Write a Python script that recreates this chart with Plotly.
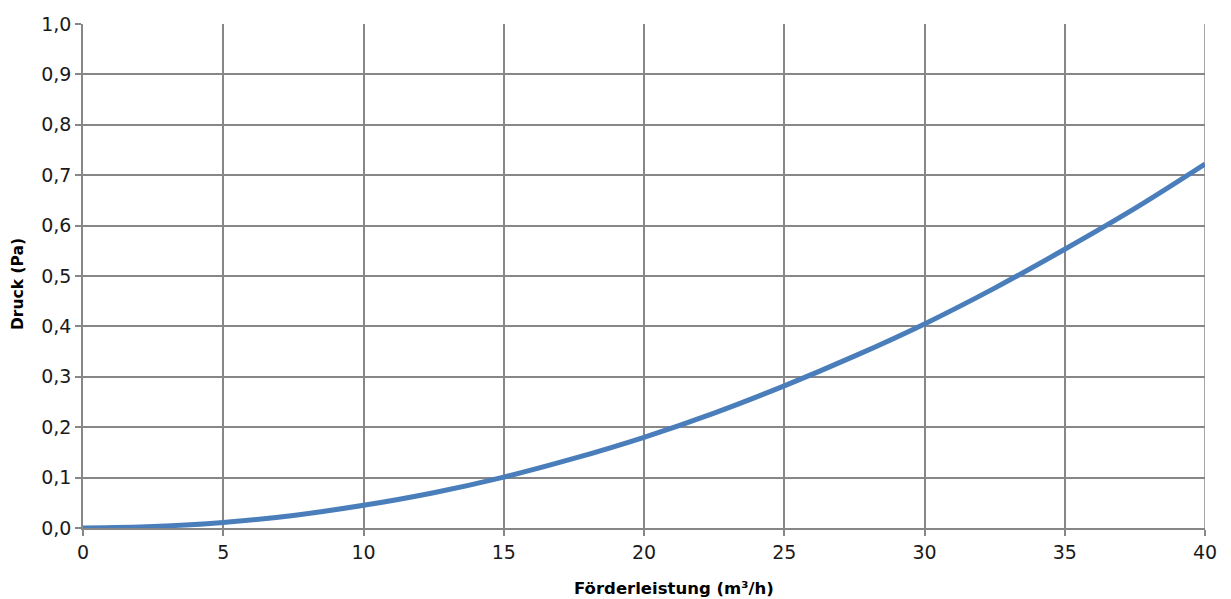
import plotly.graph_objects as go

x_vals = [0, 2.5, 5, 7.5, 10, 12.5, 15, 17.5, 20, 22.5, 25, 27.5, 30, 32.5, 35, 37.5, 40]
druck = [0.0, 0.003, 0.011, 0.025, 0.045, 0.070, 0.101, 0.138, 0.180, 0.228, 0.282, 0.341, 0.405, 0.476, 0.553, 0.634, 0.722]

y_ticks = [0, 0.1, 0.2, 0.3, 0.4, 0.5, 0.6, 0.7, 0.8, 0.9, 1.0]
y_labels = ["0,0", "0,1", "0,2", "0,3", "0,4", "0,5", "0,6", "0,7", "0,8", "0,9", "1,0"]
x_ticks = [0, 5, 10, 15, 20, 25, 30, 35, 40]

# The page body has an 8px margin, so the figure is drawn 8px in from the top-left corner.
OFF = 8
fig = go.Figure()
fig.add_trace(go.Scatter(
    x=x_vals, y=druck, mode="lines",
    line=dict(color="#4a7ebb", width=5, shape="spline"),
    hoverinfo="skip", showlegend=False))

grid = "#878787"
plot_l, plot_r, plot_t, plot_b = 83, 1205, 24, 528
fig.update_layout(
    width=1231 - OFF, height=599 - OFF,
    margin=dict(l=plot_l - OFF, r=1231 - plot_r, t=plot_t - OFF, b=599 - plot_b),
    paper_bgcolor="white", plot_bgcolor="white",
    font=dict(family="DejaVu Sans, sans-serif", color="#1a1a1a", size=19),
    xaxis=dict(
        range=[0, 40], tickvals=x_ticks, ticktext=[str(v) for v in x_ticks],
        showgrid=True, gridcolor=grid, gridwidth=1.5,
        showline=True, linecolor=grid, linewidth=1.5,
        ticks="outside", ticklen=6, tickcolor=grid, tickwidth=1.5,
        zeroline=False, automargin=False,
        tickfont=dict(size=19),
    ),
    yaxis=dict(
        range=[0, 1.0], tickvals=y_ticks, ticktext=y_labels,
        showgrid=True, gridcolor=grid, gridwidth=1.5,
        showline=True, linecolor=grid, linewidth=1.5,
        ticks="outside", ticklen=6, tickcolor=grid, tickwidth=1.5,
        zeroline=False, automargin=False,
        tickfont=dict(size=19),
    ),
)
fig.add_shape(type="line", xref="x", yref="paper", x0=40, x1=40, y0=0, y1=1,
              line=dict(color=grid, width=1.5), layer="below")
fig.add_annotation(text="<b>Förderleistung (m³/h)</b>", xref="paper", yref="paper",
                   x=(674 - plot_l) / (plot_r - plot_l), y=0, yshift=-(588 - plot_b),
                   xanchor="center", yanchor="middle",
                   showarrow=False, font=dict(size=16.5, color="#000000"))
fig.add_annotation(text="<b>Druck (Pa)</b>", xref="paper", yref="paper",
                   x=0, xshift=-(plot_l - 18), y=(plot_b - 284) / (plot_b - plot_t),
                   xanchor="center", yanchor="middle", textangle=-90,
                   showarrow=False, font=dict(size=15.5, color="#000000"))
fig.write_html("out.html")
